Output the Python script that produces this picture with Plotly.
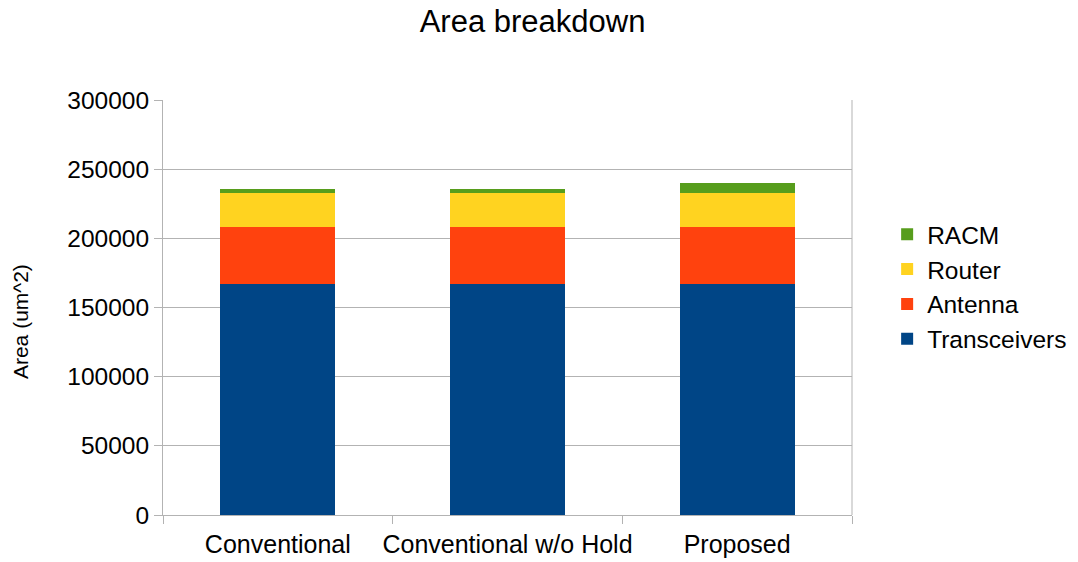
import plotly.graph_objects as go

categories = ["Conventional", "Conventional w/o Hold", "Proposed"]
transceivers = [167000, 167000, 167000]
antenna = [41000, 41000, 41000]
router = [24600, 24600, 24600]
racm = [2900, 2900, 7200]

series = [
    ("Transceivers", transceivers, "#004586"),
    ("Antenna", antenna, "#ff420e"),
    ("Router", router, "#ffd320"),
    ("RACM", racm, "#579d1c"),
]

fig = go.Figure()
for name, vals, color in series:
    fig.add_trace(go.Bar(x=categories, y=vals, name=name,
                         marker=dict(color=color, line=dict(width=0))))

font = "Liberation Sans, Arial, sans-serif"
fig.update_layout(
    barmode="stack",
    bargap=0.5,
    width=1078, height=562,
    margin=dict(l=163, r=226, t=100, b=47, autoexpand=False),
    paper_bgcolor="white", plot_bgcolor="white",
    font=dict(family=font, size=25, color="black"),
    title=dict(text="Area breakdown", x=0.494, xanchor="center",
               y=0.963, yanchor="middle", font=dict(size=31, color="black")),
    legend=dict(traceorder="reversed", x=1.051, y=0.55, yanchor="middle",
                font=dict(size=24.5), itemwidth=30, tracegroupgap=0),
    showlegend=True,
)
fig.update_xaxes(
    showline=True, linecolor="#b3b3b3", linewidth=1,
    ticks="outside", tickson="boundaries", ticklen=8, tickcolor="#b3b3b3",
    showgrid=False, mirror=False, tickfont=dict(size=25),
    tickangle=0, automargin=False, ticklabelstandoff=7,
)
fig.update_yaxes(
    range=[0, 300000], dtick=50000, tickformat="d",
    showline=True, linecolor="#b3b3b3", linewidth=1,
    ticks="outside", ticklen=8, tickcolor="#b3b3b3",
    showgrid=True, gridcolor="#b3b3b3", gridwidth=1,
    tickfont=dict(size=24.5), automargin=False,
)
# y-axis title
fig.add_annotation(text="Area (um^2)", textangle=-90, showarrow=False,
                   xref="paper", yref="paper", x=-0.2075, y=0.465,
                   xanchor="center", yanchor="middle",
                   font=dict(size=21, color="black"))
# right border of the plot area
fig.add_shape(type="line", xref="paper", yref="paper", x0=1, x1=1, y0=0, y1=1,
              line=dict(color="#b3b3b3", width=1))

fig.write_html("out.html")
